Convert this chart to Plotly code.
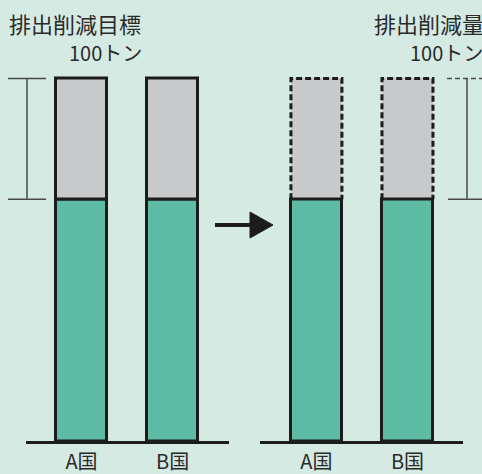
import plotly.graph_objects as go

# ---- data ----
countries = ["A国", "B国"]
remaining = [200, 200]          # green part (emissions kept)
reduction = [100, 100]          # gray part (reduction of 100 t)
title_left = "排出削減目標"
title_right = "排出削減量"
amount_label = "100トン"

W, H = 482, 474
GREEN = "#5dbca3"
GRAY = "#c7c9ca"
BG = "#d5eae3"
INK = "#1c1c1c"
TXT = "#2a2a2a"
BAR_W = 0.56

YMAX = 310
Y_DOM = [33 / H, (H - 441 + 362.5 * YMAX / 300) / H]


def ypap(v):
    return Y_DOM[0] + v / YMAX * (Y_DOM[1] - Y_DOM[0])


def xp(px):
    return px / W


def yp(px):
    return (H - px) / H


xs = list(range(len(countries)))
fig = go.Figure()

# left panel: solid outlines
fig.add_trace(go.Bar(x=xs, y=remaining, width=BAR_W, marker=dict(color=GREEN, line=dict(color=INK, width=3)),
                     xaxis="x", yaxis="y", cliponaxis=False, hoverinfo="skip", showlegend=False))
fig.add_trace(go.Bar(x=xs, y=reduction, base=remaining, width=BAR_W, marker=dict(color=GRAY, line=dict(color=INK, width=3)),
                     xaxis="x", yaxis="y", cliponaxis=False, hoverinfo="skip", showlegend=False))

# right panel: green solid, gray with dashed outline
fig.add_trace(go.Bar(x=xs, y=reduction, base=remaining, width=BAR_W, marker=dict(color=GRAY, line=dict(width=0)),
                     xaxis="x2", yaxis="y2", cliponaxis=False, hoverinfo="skip", showlegend=False))
fig.add_trace(go.Bar(x=xs, y=remaining, width=BAR_W, marker=dict(color=GREEN, line=dict(color=INK, width=3)),
                     xaxis="x2", yaxis="y2", cliponaxis=False, hoverinfo="skip", showlegend=False))
for i, (b, t) in enumerate(zip(remaining, reduction)):
    fig.add_trace(go.Scatter(
        x=[i - BAR_W / 2, i - BAR_W / 2, i + BAR_W / 2, i + BAR_W / 2],
        y=[b, b + t, b + t, b], mode="lines",
        line=dict(color=INK, width=3, dash="6px,3px"),
        xaxis="x2", yaxis="y2", hoverinfo="skip", showlegend=False))

axis_common = dict(showgrid=False, zeroline=False, showline=True, linecolor=INK, linewidth=3,
                   tickmode="array", tickvals=xs, ticktext=countries, ticks="", ticklabelstandoff=1,
                   automargin=False,
                   tickfont=dict(size=20, color=TXT, family="Noto Sans CJK JP"), fixedrange=True)
yaxis_common = dict(range=[0, YMAX], domain=Y_DOM, visible=False, fixedrange=True, automargin=False)

fig.update_layout(
    width=W, height=H, margin=dict(l=0, r=0, t=0, b=0),
    paper_bgcolor=BG, plot_bgcolor="rgba(0,0,0,0)",
    barmode="overlay", bargap=0,
    xaxis=dict(domain=[26 / W, 229 / W], range=[-0.61, 1.62], anchor="y", **axis_common),
    xaxis2=dict(domain=[260 / W, 463 / W], range=[-0.62, 1.61], anchor="y2", **axis_common),
    yaxis=dict(anchor="x", **yaxis_common),
    yaxis2=dict(anchor="x2", **yaxis_common),
    font=dict(family="Noto Sans CJK JP", color=TXT),
)

top_v = remaining[0] + reduction[0]
bot_v = remaining[0]
shapes = []
BR = dict(color="#4a4a4a", width=1.5)
# left bracket
shapes += [
    dict(type="line", xref="paper", yref="paper", x0=xp(27), x1=xp(27), y0=ypap(bot_v), y1=ypap(top_v), line=BR),
    dict(type="line", xref="paper", yref="paper", x0=xp(8), x1=xp(46), y0=ypap(top_v), y1=ypap(top_v), line=BR),
    dict(type="line", xref="paper", yref="paper", x0=xp(8), x1=xp(46), y0=ypap(bot_v), y1=ypap(bot_v), line=BR),
]
# right bracket
shapes += [
    dict(type="line", xref="paper", yref="paper", x0=xp(467), x1=xp(467), y0=ypap(bot_v), y1=ypap(top_v), line=BR),
    dict(type="line", xref="paper", yref="paper", x0=xp(447), x1=xp(482), y0=ypap(top_v), y1=ypap(top_v),
         line=dict(color="#4a4a4a", width=1.5, dash="5px,3px")),
    dict(type="line", xref="paper", yref="paper", x0=xp(448), x1=xp(482), y0=ypap(bot_v), y1=ypap(bot_v), line=BR),
]
# arrow
shapes += [
    dict(type="line", xref="paper", yref="paper", x0=xp(215), x1=xp(252), y0=yp(225), y1=yp(225),
         line=dict(color=INK, width=4)),
    dict(type="path", xref="paper", yref="paper",
         path=f"M {xp(250)} {yp(212)} L {xp(273)} {yp(225)} L {xp(250)} {yp(238)} Z",
         fillcolor=INK, line=dict(color=INK, width=1)),
]
fig.update_layout(shapes=shapes)

ann = []
ann.append(dict(text=title_left, x=xp(7), y=yp(23), xref="paper", yref="paper", xanchor="left", yanchor="middle",
                showarrow=False, font=dict(size=22, color=TXT)))
ann.append(dict(text=amount_label, x=xp(67), y=yp(52), xref="paper", yref="paper", xanchor="left", yanchor="middle",
                showarrow=False, font=dict(size=20, color=TXT)))
ann.append(dict(text=title_right, x=xp(372), y=yp(23), xref="paper", yref="paper", xanchor="left", yanchor="middle",
                showarrow=False, font=dict(size=22, color=TXT)))
ann.append(dict(text=amount_label, x=xp(408), y=yp(52), xref="paper", yref="paper", xanchor="left", yanchor="middle",
                showarrow=False, font=dict(size=20, color=TXT)))
fig.update_layout(annotations=ann)

fig.write_html("out.html")
